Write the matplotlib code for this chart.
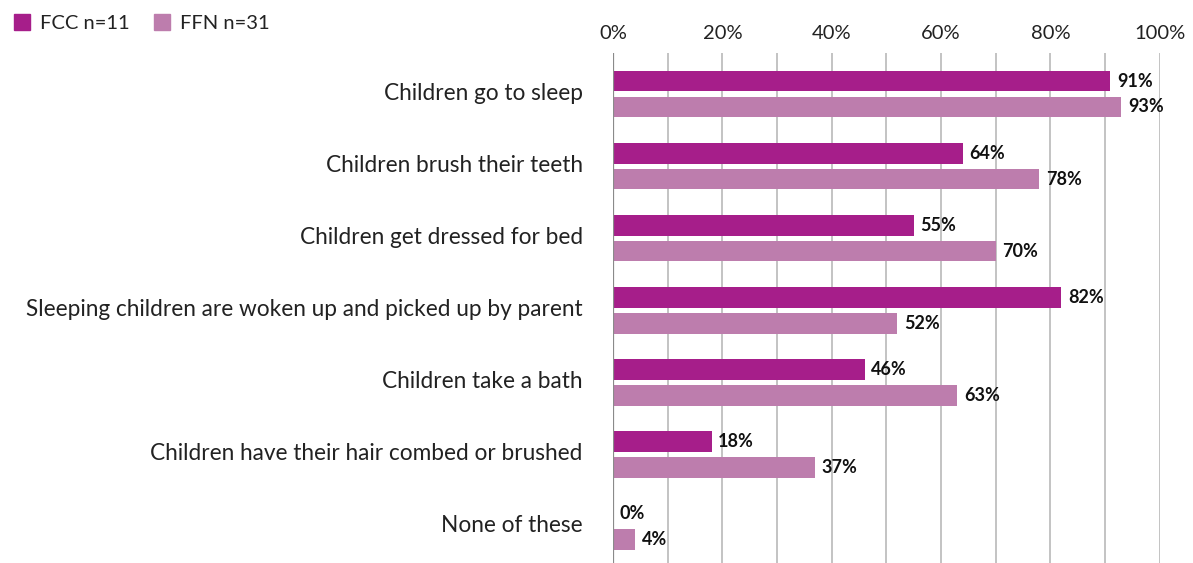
import matplotlib.pyplot as plt
from matplotlib.patches import Patch
from matplotlib.ticker import MultipleLocator, FuncFormatter

plt.rcParams['font.family'] = ['Lato', 'DejaVu Sans']

categories = [
    "Children go to sleep",
    "Children brush their teeth",
    "Children get dressed for bed",
    "Sleeping children are woken up and picked up by parent",
    "Children take a bath",
    "Children have their hair combed or brushed",
    "None of these",
]
fcc = [91, 64, 55, 82, 46, 18, 0]
ffn = [93, 78, 70, 52, 63, 37, 4]
series_names = ["FCC n=11", "FFN n=31"]

fcc_color = "#A61E8A"
ffn_color = "#BD7DAD"

fig = plt.figure(figsize=(11.93, 5.63), dpi=100)
ax = fig.add_axes([0.514, 0.0, 0.458, 0.906])

y = list(range(len(categories)))
h = 0.29
off = 0.18
ax.barh([v - off for v in y], fcc, height=h, color=fcc_color, zorder=3)
ax.barh([v + off for v in y], ffn, height=h, color=ffn_color, zorder=3)

# value labels just past the end of each bar
for i in y:
    ax.text(fcc[i] + 1.2, i - off, f"{fcc[i]}%", va="center", ha="left",
            fontsize=13, fontweight="bold", color="#111111")
    ax.text(ffn[i] + 1.2, i + off, f"{ffn[i]}%", va="center", ha="left",
            fontsize=13, fontweight="bold", color="#111111")

ax.set_xlim(0, 100)
ax.set_ylim(6.51, -0.57)
ax.xaxis.set_major_locator(MultipleLocator(20))
ax.xaxis.set_minor_locator(MultipleLocator(10))
ax.xaxis.set_major_formatter(FuncFormatter(lambda v, p: f"{v:.0f}%"))
ax.xaxis.tick_top()
ax.tick_params(axis="x", which="both", length=0, labelsize=14.5, pad=8,
               labelcolor="#222222")
ax.grid(axis="x", which="both", color="#BEBEBE", linewidth=1.3, zorder=0)
ax.axvline(0, color="#8A8A8A", linewidth=1.6, zorder=4)

ax.set_yticks([v - 0.04 for v in y])
ax.set_yticklabels(categories)
ax.tick_params(axis="y", length=0, labelsize=16.3, pad=22, labelcolor="#222222")

for s in ax.spines.values():
    s.set_visible(False)

handles = [Patch(color=fcc_color), Patch(color=ffn_color)]
fig.legend(handles, series_names, loc="upper left", bbox_to_anchor=(0.0, 1.0),
           ncol=2, frameon=False, fontsize=14.5, handlelength=0.8,
           handleheight=0.8, handletextpad=0.5, columnspacing=1.2,
           borderaxespad=0.3, labelcolor="#222222")

fig.savefig("out.png", dpi=100)
